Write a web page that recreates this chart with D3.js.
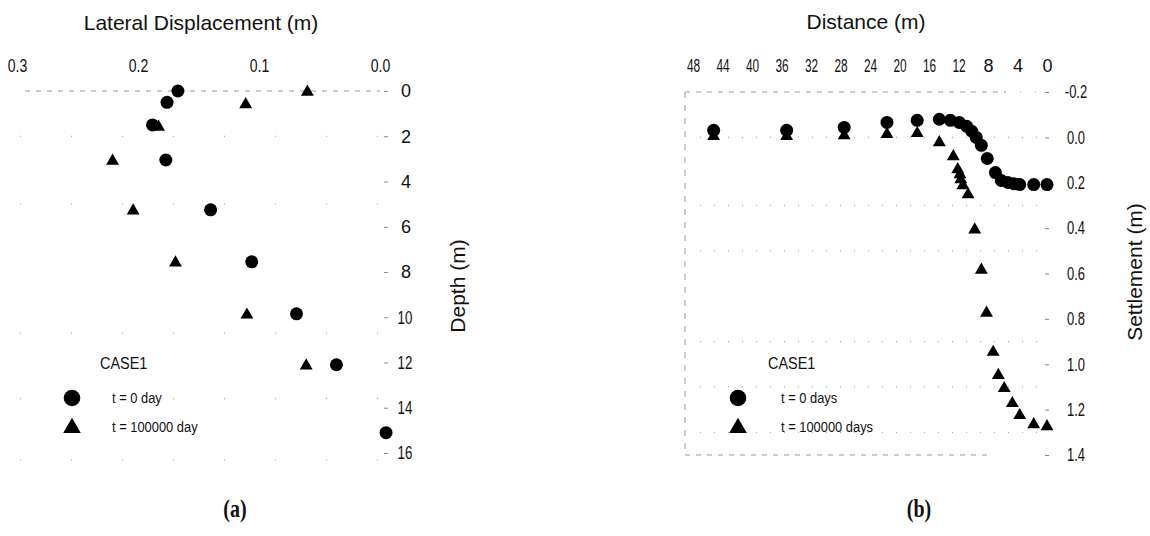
<!DOCTYPE html>
<html>
<head>
<meta charset="utf-8">
<title>Lateral displacement and settlement</title>
<script src="https://d3js.org/d3.v7.min.js"></script>
<style>
    body { margin: 0; background: #fff; }
    text { fill: #111; font-family: "Liberation Sans", Arial, sans-serif; }
    .grid { fill: none; stroke: #999; stroke-width: 1; }
</style>
</head>
<body>
<script>
// ---- data: panel (a) lateral displacement vs depth
var depthT0 = [0, 0.5, 1.5, 3.05, 5.25, 7.55, 9.85, 12.1, 15.1];
var dispT0 = [0.167, 0.176, 0.188, 0.177, 0.140, 0.106, 0.069, 0.036, -0.005];
var depthT1 = [0, 0.55, 1.55, 3.05, 5.25, 7.55, 9.85, 12.1];
var dispT1 = [0.060, 0.111, 0.183, 0.221, 0.204, 0.169, 0.110, 0.061];

// ---- data: panel (b) settlement vs distance
var distT0 = [45.2, 35.3, 27.5, 21.7, 17.6, 14.6, 13.1, 11.9, 10.9, 10.2, 9.6, 8.9, 8.1, 7.0, 6.2, 5.3, 4.5, 3.7, 1.8, 0];
var settT0 = [-0.031, -0.031, -0.044, -0.066, -0.075, -0.080, -0.075, -0.066, -0.049, -0.027, 0.000, 0.035, 0.093, 0.155, 0.190, 0.199, 0.204, 0.208, 0.208, 0.208];
var distT1 = [45.2, 35.3, 27.5, 21.7, 17.6, 14.6, 12.7, 12.1, 11.8, 11.7, 11.4, 10.7, 9.8, 8.9, 8.2, 7.3, 6.6, 5.8, 4.7, 3.7, 1.8, 0];
var settT1 = [-0.009, -0.009, -0.013, -0.018, -0.022, 0.018, 0.080, 0.137, 0.159, 0.181, 0.208, 0.248, 0.403, 0.580, 0.770, 0.942, 1.044, 1.102, 1.168, 1.221, 1.261, 1.270];

var dispTicks = [0.3, 0.2, 0.1, 0.0];
var depthTicks = [0, 2, 4, 6, 8, 10, 12, 14, 16];
var distTicks = [48, 44, 40, 36, 32, 28, 24, 20, 16, 12, 8, 4, 0];
var settTicks = [-0.2, 0.0, 0.2, 0.4, 0.6, 0.8, 1.0, 1.2, 1.4];
var legendLabelsA = ["t = 0 day", "t = 100000 day"];
var legendLabelsB = ["t = 0 days", "t = 100000 days"];

var w = 1150, h = 536;
var SANS = "'Liberation Sans', Arial, sans-serif";
var SERIF = "'Liberation Serif', 'DejaVu Serif', serif";

var svg = d3.select("body").append("svg")
    .attr("width", w)
    .attr("height", h);

var tri = d3.symbol().type(d3.symbolTriangle).size(72);
var triBig = d3.symbol().type(d3.symbolTriangle).size(135);

function zip(a, b) {
    return a.map(function (v, i) { return [v, b[i]]; });
}

// text squeezed horizontally (the scan uses a narrow face)
function addText(parent, x, y, str, size, sx, anchor, family) {
    return parent.append("text")
        .attr("transform", "translate(" + x + "," + y + ") scale(" + sx + ",1)")
        .attr("text-anchor", anchor || "start")
        .style("font-family", family || SANS)
        .style("font-size", size + "px")
        .text(str);
}

// ================= panel (a) =================
var xA = d3.scaleLinear().domain([0.3, 0.0]).range([17, 380]);
var yA = d3.scaleLinear().domain([0, 16]).range([91, 453]);

var gA = svg.append("g");

// faint scanned grid
gA.append("line").attr("class", "grid")
    .attr("x1", 25).attr("x2", xA(0)).attr("y1", yA(0)).attr("y2", yA(0))
    .attr("stroke-dasharray", "5,6");
[2, 5, 10.7, 13.6, 16.3].forEach(function (d) {
    gA.append("line").attr("class", "grid")
        .attr("x1", 20).attr("x2", xA(0)).attr("y1", yA(d)).attr("y2", yA(d))
        .attr("stroke", "#ccc").attr("stroke-dasharray", "1,50");
});

var axTopA = gA.append("g")
    .attr("transform", "translate(0,80)")
    .call(d3.axisTop(xA).tickValues(dispTicks).tickFormat(function (d) { return d.toFixed(1); }).tickSize(0).tickPadding(8));
axTopA.select(".domain").remove();
axTopA.selectAll("text")
    .attr("transform", "scale(0.78,1)")
    .style("font-family", SANS).style("font-size", "18px");

var axRightA = gA.append("g")
    .attr("transform", "translate(384,0)")
    .call(d3.axisRight(yA).tickValues(depthTicks).tickSize(4).tickPadding(0));
axRightA.select(".domain").remove();
axRightA.selectAll(".tick line").attr("stroke", "#888");
axRightA.selectAll("text")
    .attr("text-anchor", "middle")
    .attr("x", function (d) { return d < 10 ? 22 : 21 / 0.74; })
    .attr("transform", function (d) { return d < 10 ? null : "scale(0.74,1)"; })
    .style("font-family", SANS).style("font-size", "18px");

addText(gA, 201, 30, "Lateral Displacement (m)", 21, 1, "middle");
gA.append("text")
    .attr("transform", "translate(465,286) rotate(-90)")
    .attr("text-anchor", "middle")
    .style("font-size", "21px")
    .text("Depth (m)");

gA.selectAll(".c0").data(zip(dispT0, depthT0)).enter().append("circle")
    .attr("cx", function (d) { return xA(d[0]); })
    .attr("cy", function (d) { return yA(d[1]); })
    .attr("r", 6.5).attr("fill", "#000");
gA.selectAll(".t1").data(zip(dispT1, depthT1)).enter().append("path")
    .attr("d", tri)
    .attr("transform", function (d) { return "translate(" + xA(d[0]) + "," + (yA(d[1]) + 1) + ")"; })
    .attr("fill", "#000");

addText(gA, 100, 369, "CASE1", 17, 0.85);
gA.append("circle").attr("cx", 72).attr("cy", 398).attr("r", 8.3).attr("fill", "#000");
gA.append("path").attr("d", triBig).attr("transform", "translate(72,428)").attr("fill", "#000");
addText(gA, 112, 403, legendLabelsA[0], 15, 0.86);
addText(gA, 112, 432, legendLabelsA[1], 15, 0.86);

addText(gA, 235, 517, "(a)", 25, 0.8, "middle", SERIF).style("font-weight", "bold");

// ================= panel (b) =================
var xB = d3.scaleLinear().domain([48, 0]).range([693, 1047]);
var yB = d3.scaleLinear().domain([-0.2, 1.4]).range([92, 455]);

var gB = svg.append("g");

// dashed frame and dotted grid
gB.append("line").attr("class", "grid")
    .attr("x1", 685).attr("x2", 1005).attr("y1", yB(-0.2)).attr("y2", yB(-0.2))
    .attr("stroke-dasharray", "5,6");
gB.append("line").attr("class", "grid")
    .attr("x1", 1005).attr("x2", 1047).attr("y1", yB(-0.2)).attr("y2", yB(-0.2))
    .attr("stroke", "#bbb").attr("stroke-dasharray", "1,14");
gB.append("line").attr("class", "grid")
    .attr("x1", 685).attr("x2", 685).attr("y1", yB(-0.2)).attr("y2", yB(1.4))
    .attr("stroke-dasharray", "6,7");
gB.append("line").attr("class", "grid")
    .attr("x1", 685).attr("x2", 990).attr("y1", yB(1.4)).attr("y2", yB(1.4))
    .attr("stroke-dasharray", "5,6");
[0.0, 0.3, 0.5, 0.9, 1.1, 1.3].forEach(function (s) {
    gB.append("line").attr("class", "grid")
        .attr("x1", 700).attr("x2", 1045).attr("y1", yB(s)).attr("y2", yB(s))
        .attr("stroke", "#aaa").attr("stroke-dasharray", "1,13");
});

var axTopB = gB.append("g")
    .attr("transform", "translate(0,80)")
    .call(d3.axisTop(xB).tickValues(distTicks).tickSize(0).tickPadding(8));
axTopB.select(".domain").remove();
axTopB.selectAll("text")
    .attr("transform", function (d) { return d < 10 ? null : "scale(0.66,1)"; })
    .style("font-family", SANS).style("font-size", "18px");

var axRightB = gB.append("g")
    .attr("transform", "translate(1045,0)")
    .call(d3.axisRight(yB).tickValues(settTicks).tickFormat(function (d) { return d.toFixed(1); }).tickSize(4).tickPadding(0));
axRightB.select(".domain").remove();
axRightB.selectAll(".tick line").attr("stroke", "#888");
axRightB.selectAll("text")
    .attr("x", 31 / 0.72).attr("text-anchor", "middle")
    .attr("transform", "scale(0.72,1)")
    .style("font-family", SANS).style("font-size", "18px");

addText(gB, 866, 29, "Distance (m)", 21, 1, "middle");
gB.append("text")
    .attr("transform", "translate(1142,272) rotate(-90)")
    .attr("text-anchor", "middle")
    .style("font-size", "21px")
    .text("Settlement (m)");

gB.selectAll(".c0").data(zip(distT0, settT0)).enter().append("circle")
    .attr("cx", function (d) { return xB(d[0]); })
    .attr("cy", function (d) { return yB(d[1]); })
    .attr("r", 6.5).attr("fill", "#000");
gB.selectAll(".t1").data(zip(distT1, settT1)).enter().append("path")
    .attr("d", tri)
    .attr("transform", function (d) { return "translate(" + xB(d[0]) + "," + (yB(d[1]) + 1) + ")"; })
    .attr("fill", "#000");

addText(gB, 768, 369, "CASE1", 17, 0.85);
gB.append("circle").attr("cx", 738).attr("cy", 398).attr("r", 8.3).attr("fill", "#000");
gB.append("path").attr("d", triBig).attr("transform", "translate(738,428)").attr("fill", "#000");
addText(gB, 781, 403, legendLabelsB[0], 15, 0.86);
addText(gB, 781, 432, legendLabelsB[1], 15, 0.86);

addText(gB, 919, 517, "(b)", 25, 0.8, "middle", SERIF).style("font-weight", "bold");
</script>
</body>
</html>
